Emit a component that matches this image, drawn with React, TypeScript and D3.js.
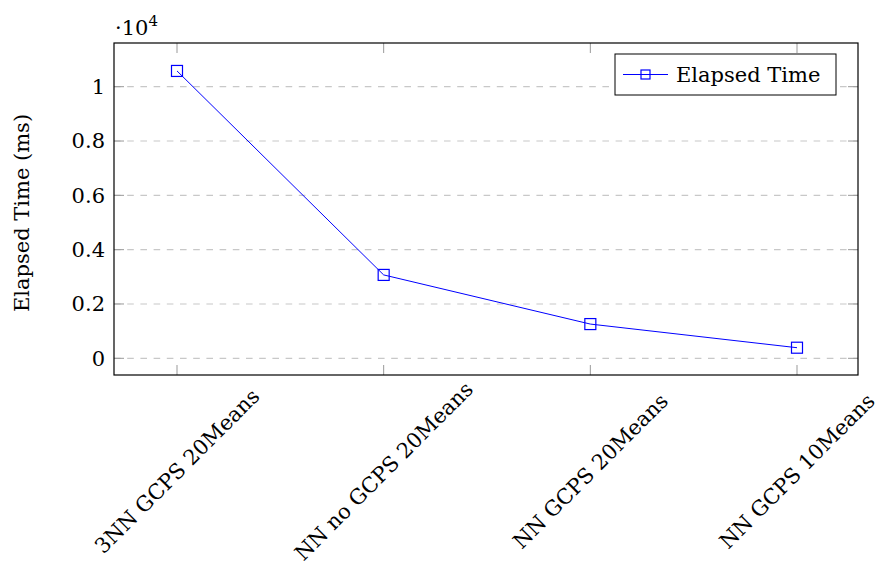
import React from "react";
import * as d3 from "d3";

const categories = ["3NN GCPS 20Means", "NN no GCPS 20Means", "NN GCPS 20Means", "NN GCPS 10Means"];
const elapsed = [10580, 3070, 1260, 390];
const yTicks = [0, 2000, 4000, 6000, 8000, 10000];
const yTickLabels = ["0", "0.2", "0.4", "0.6", "0.8", "1"];
const seriesName = "Elapsed Time";
const yTitle = "Elapsed Time (ms)";

const W = 879, H = 574;
const L = 114, R = 858, T = 43, B = 375;
const FONT = "DejaVu Serif";
const FS = 21;

export default function App() {
  const x = d3.scalePoint<string>().domain(categories).range([177, 797]);
  const y = d3.scaleLinear().domain([0, 10000]).range([358.3, 86.7]);
  const line = d3.line<number>().x((_, i) => x(categories[i])!).y((d) => y(d));
  const ms = 11;
  const ts = { fontFamily: FONT };
  return (
    <svg width={W} height={H} style={{ position: "absolute", left: 0, top: 0, fontFamily: FONT }}>
      <rect width={W} height={H} fill="#fff" />
      {yTicks.map((t) => (
        <line key={"g" + t} x1={L} x2={R} y1={y(t)} y2={y(t)} stroke="#c8c8c8" strokeWidth={1.2} strokeDasharray="6.6 6.6" />
      ))}
      {yTicks.map((t) => (
        <g key={"yt" + t} stroke="#999" strokeWidth={1}>
          <line x1={L} x2={L + 10} y1={y(t)} y2={y(t)} />
          <line x1={R} x2={R - 10} y1={y(t)} y2={y(t)} />
        </g>
      ))}
      {categories.map((c) => (
        <g key={"xt" + c} stroke="#999" strokeWidth={1}>
          <line x1={x(c)} x2={x(c)} y1={B} y2={B - 10} />
          <line x1={x(c)} x2={x(c)} y1={T} y2={T + 10} />
        </g>
      ))}
      <rect x={L} y={T} width={R - L} height={B - T} fill="none" stroke="#000" strokeWidth={1.2} />
      {yTicks.map((t, i) => (
        <text key={"yl" + t} style={ts} x={105} y={y(t)} dy="0.35em" textAnchor="end" fontSize={FS}>{yTickLabels[i]}</text>
      ))}
      <text style={ts} x={115} y={35} fontSize={FS}>·10<tspan dy={-9} fontSize={15}>4</tspan></text>
      {categories.map((c) => (
        <text key={"xl" + c} style={ts} transform={`translate(${x(c)},471) rotate(-45)`} textAnchor="middle" dy="0.35em" fontSize={FS}>{c}</text>
      ))}
      <text style={ts} transform={`translate(22,213) rotate(-90)`} textAnchor="middle" dy="0.35em" fontSize={FS}>{yTitle}</text>
      <path d={line(elapsed)!} fill="none" stroke="#0000ff" strokeWidth={1} />
      {elapsed.map((v, i) => (
        <rect key={"m" + i} x={x(categories[i])! - ms / 2} y={y(v) - ms / 2} width={ms} height={ms} fill="none" stroke="#0000ff" strokeWidth={1.2} />
      ))}
      <g>
        <rect x={615} y={54} width={221} height={41} fill="#fff" stroke="#000" strokeWidth={1} />
        <line x1={623} x2={668} y1={74.5} y2={74.5} stroke="#0000ff" strokeWidth={1} />
        <rect x={645.5 - 4.5} y={74.5 - 4.5} width={9} height={9} fill="none" stroke="#0000ff" strokeWidth={1.2} />
        <text style={ts} x={676} y={74.5} dy="0.35em" fontSize={FS}>{seriesName}</text>
      </g>
    </svg>
  );
}
